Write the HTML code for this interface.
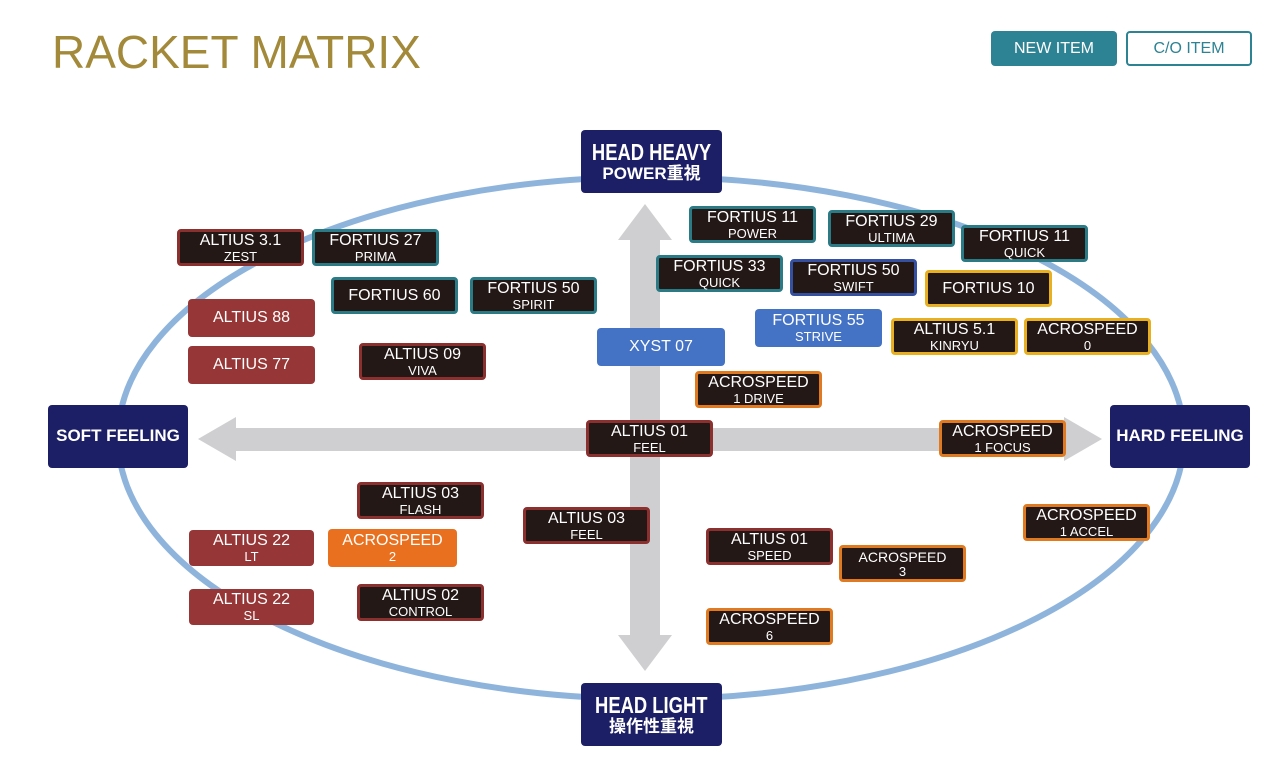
<!DOCTYPE html>
<html><head><meta charset="utf-8"><style>
body{margin:0;width:1280px;height:778px;background:#fff;position:relative;overflow:hidden;font-family:"Liberation Sans","Noto Sans CJK JP",sans-serif}
.t{position:absolute;left:52px;top:25px;font-size:46px;color:#a38a3a}
.btn{position:absolute;top:31px;width:126px;height:35px;box-sizing:border-box;border-radius:4px;font-size:16px;display:flex;align-items:center;justify-content:center}
.b{position:absolute;box-sizing:border-box;width:127px;height:37px;border-radius:4px;background:#231815;color:#fff;border:3px solid #8b2f2f;display:flex;flex-direction:column;align-items:center;justify-content:center;line-height:1;text-align:center;white-space:nowrap}
.b .m{font-size:16px}.b .s{font-size:13px;margin-top:1px}
.r{border-color:#8b2f2f}.tl{border-color:#2a7b86}.bl{border-color:#3550a0}.g{border-color:#e8b020}.o{border-color:#e07a20}
.sr{background:#963636;border:none}.sb{background:#4472c4;border:none}.so{background:#e8701e;border:none}
.n{position:absolute;background:#1c1f66;color:#fff;border-radius:4px;display:flex;flex-direction:column;align-items:center;justify-content:center;font-weight:bold;line-height:1.1;white-space:nowrap}
</style></head><body>
<div class="t">RACKET MATRIX</div>
<div class="btn" style="left:991px;background:#2d8394;color:#fff">NEW ITEM</div>
<div class="btn" style="left:1126px;border:2px solid #2d8394;color:#2d8394;background:#fff">C/O ITEM</div>
<svg width="1280" height="778" style="position:absolute;left:0;top:0">
<ellipse cx="651" cy="438" rx="533" ry="261" fill="none" stroke="#8fb4dc" stroke-width="6"/>
<g fill="#cfcfd1">
<rect x="630" y="240" width="30" height="395"/>
<polygon points="645,204 672,240 618,240"/>
<polygon points="645,671 672,635 618,635"/>
<rect x="232" y="428" width="836" height="23"/>
<polygon points="198,439 236,417 236,461"/>
<polygon points="1102,439 1064,417 1064,461"/>
</g>
</svg>
<div class="n" style="left:581px;top:130px;width:141px;height:63px"><span style="font-size:23px;transform:scaleX(.8)">HEAD HEAVY</span><span style="font-size:17px">POWER重視</span></div>
<div class="n" style="left:581px;top:683px;width:141px;height:63px"><span style="font-size:23px;transform:scaleX(.8)">HEAD LIGHT</span><span style="font-size:17px">操作性重視</span></div>
<div class="n" style="left:48px;top:405px;width:140px;height:63px;font-size:17px">SOFT FEELING</div>
<div class="n" style="left:1110px;top:405px;width:140px;height:63px;font-size:17px">HARD FEELING</div>

<div class="b r" style="left:177px;top:229px"><span class="m">ALTIUS 3.1</span><span class="s">ZEST</span></div>
<div class="b tl" style="left:312px;top:229px"><span class="m">FORTIUS 27</span><span class="s">PRIMA</span></div>
<div class="b tl" style="left:331px;top:277px"><span class="m">FORTIUS 60</span></div>
<div class="b tl" style="left:470px;top:277px"><span class="m">FORTIUS 50</span><span class="s">SPIRIT</span></div>
<div class="b sr" style="left:188px;top:299px;height:38px"><span class="m">ALTIUS 88</span></div>
<div class="b sr" style="left:188px;top:346px;height:38px"><span class="m">ALTIUS 77</span></div>
<div class="b r" style="left:359px;top:343px"><span class="m">ALTIUS 09</span><span class="s">VIVA</span></div>
<div class="b sb" style="left:597px;top:328px;width:128px;height:38px"><span class="m">XYST 07</span></div>
<div class="b tl" style="left:689px;top:206px"><span class="m">FORTIUS 11</span><span class="s">POWER</span></div>
<div class="b tl" style="left:828px;top:210px"><span class="m">FORTIUS 29</span><span class="s">ULTIMA</span></div>
<div class="b tl" style="left:961px;top:225px"><span class="m">FORTIUS 11</span><span class="s">QUICK</span></div>
<div class="b tl" style="left:656px;top:255px"><span class="m">FORTIUS 33</span><span class="s">QUICK</span></div>
<div class="b bl" style="left:790px;top:259px"><span class="m">FORTIUS 50</span><span class="s">SWIFT</span></div>
<div class="b g" style="left:925px;top:270px"><span class="m">FORTIUS 10</span></div>
<div class="b sb" style="left:755px;top:309px;height:38px"><span class="m">FORTIUS 55</span><span class="s">STRIVE</span></div>
<div class="b g" style="left:891px;top:318px"><span class="m">ALTIUS 5.1</span><span class="s">KINRYU</span></div>
<div class="b g" style="left:1024px;top:318px"><span class="m">ACROSPEED</span><span class="s">0</span></div>
<div class="b o" style="left:695px;top:371px"><span class="m">ACROSPEED</span><span class="s">1 DRIVE</span></div>
<div class="b r" style="left:586px;top:420px"><span class="m">ALTIUS 01</span><span class="s">FEEL</span></div>
<div class="b o" style="left:939px;top:420px"><span class="m">ACROSPEED</span><span class="s">1 FOCUS</span></div>
<div class="b r" style="left:357px;top:482px"><span class="m">ALTIUS 03</span><span class="s">FLASH</span></div>
<div class="b r" style="left:523px;top:507px"><span class="m">ALTIUS 03</span><span class="s">FEEL</span></div>
<div class="b sr" style="left:189px;top:530px;width:125px;height:36px"><span class="m">ALTIUS 22</span><span class="s">LT</span></div>
<div class="b so" style="left:328px;top:529px;width:129px;height:38px"><span class="m">ACROSPEED</span><span class="s">2</span></div>
<div class="b sr" style="left:189px;top:589px;width:125px;height:36px"><span class="m">ALTIUS 22</span><span class="s">SL</span></div>
<div class="b r" style="left:357px;top:584px"><span class="m">ALTIUS 02</span><span class="s">CONTROL</span></div>
<div class="b r" style="left:706px;top:528px"><span class="m">ALTIUS 01</span><span class="s">SPEED</span></div>
<div class="b o" style="left:839px;top:545px"><span class="s" style="font-size:14px">ACROSPEED</span><span class="s">3</span></div>
<div class="b o" style="left:706px;top:608px"><span class="m">ACROSPEED</span><span class="s">6</span></div>
<div class="b o" style="left:1023px;top:504px"><span class="m">ACROSPEED</span><span class="s">1 ACCEL</span></div>
</body></html>
